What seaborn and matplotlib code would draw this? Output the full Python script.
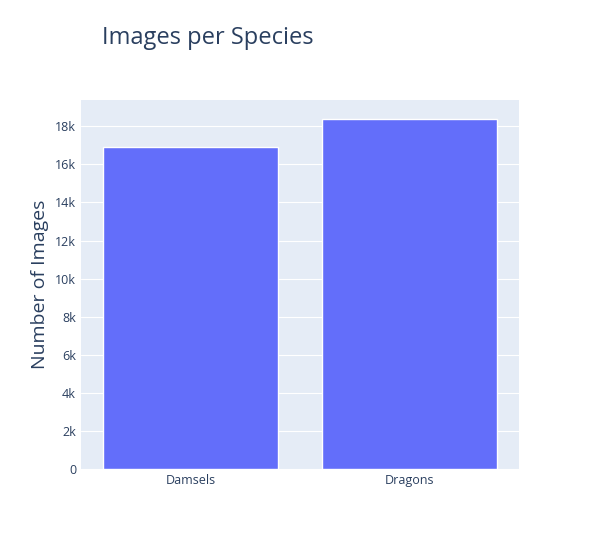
import matplotlib
matplotlib.use("Agg")
import matplotlib.pyplot as plt
import seaborn as sns
import pandas as pd
from matplotlib.ticker import FuncFormatter

species = ["Damsels", "Dragons"]
image_counts = [16900, 18380]

df = pd.DataFrame({"species": species, "count": image_counts})

sns.set_style("darkgrid", {"axes.facecolor": "#E5ECF6", "grid.color": "white"})
plt.rcParams['font.family'] = ['Open Sans', 'DejaVu Sans']

fig = plt.figure(figsize=(6, 5.5), dpi=100)
ax = fig.add_axes([0.135, 0.147, 0.73, 0.671])
sns.barplot(data=df, x="species", y="count", color="#636EFA", saturation=1, width=0.8, ax=ax)

ax.set_ylim(0, 19370)
ax.set_yticks(range(0, 18001, 2000))
ax.yaxis.set_major_formatter(FuncFormatter(lambda v, p: "0" if v == 0 else f"{int(v/1000)}k"))
ax.tick_params(axis="both", labelsize=9, colors="#2a3f5f", length=0)
ax.set_xlabel("")
ax.set_ylabel("Number of Images", fontsize=14, color="#2a3f5f")
ax.grid(axis="x", visible=False)
for s in ax.spines.values():
    s.set_visible(False)

fig.text(0.17, 0.92, "Images per Species", fontsize=17, color="#2a3f5f")
fig.savefig("out.png")
